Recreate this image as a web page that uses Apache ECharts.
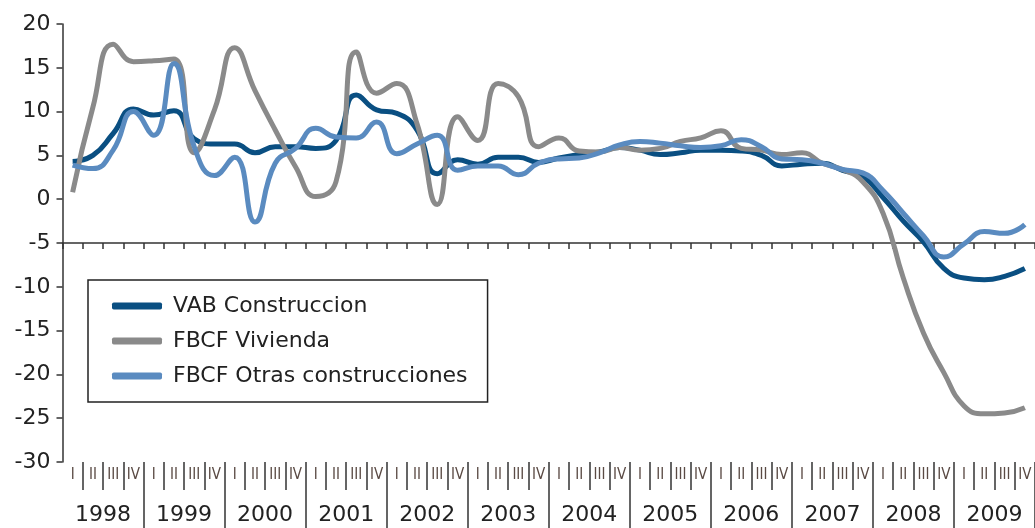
<!DOCTYPE html>
<html>
<head>
<meta charset="utf-8">
<title>VAB Construccion / FBCF</title>
<script src="https://cdn.jsdelivr.net/npm/echarts@6/dist/echarts.min.js"></script>
<style>
  html, body { margin: 0; padding: 0; background: #fff; }
  #chart { width: 1035px; height: 528px; }
</style>
</head>
<body>
<div id="chart"></div>
<script>
// tick labels
const years = ['1998', '1999', '2000', '2001', '2002', '2003', '2004', '2005', '2006', '2007', '2008', '2009']
const quarterNames = ['I', 'II', 'III', 'IV']

// quarterly growth rates (%), 1998 Q1 .. 2009 Q4
const vab = [4.3, 5.0, 7.5, 10.3, 9.6, 10.1, 6.9, 6.3, 6.3, 5.3, 6.0, 6.0,
  5.8, 6.7, 11.9, 10.2, 9.8, 7.9, 2.9, 4.5, 4.0, 4.8, 4.8, 4.2,
  4.7, 5.1, 5.4, 5.9, 5.6, 5.1, 5.3, 5.6, 5.6, 5.5, 5.0, 3.8,
  4.0, 4.1, 3.3, 2.6, 0.2, -2.5, -4.9, -7.9, -9.0, -9.2, -8.8, -7.9]
const vivienda = [0.8, 10.5, 17.7, 15.7, 15.8, 16.0, 5.3, 10.2, 17.3, 12.4, 7.9, 3.7,
  0.3, 2.0, 16.8, 12.1, 13.2, 8.6, -0.6, 9.4, 6.7, 13.2, 11.7, 6.0,
  7.0, 5.5, 5.4, 5.9, 5.6, 5.8, 6.6, 7.0, 7.8, 5.8, 5.6, 5.1,
  5.3, 4.1, 3.4, 2.0, -1.6, -9.0, -15.3, -19.8, -23.6, -24.5, -24.4, -23.8]
const otras = [3.9, 3.5, 5.6, 10.0, 7.3, 15.5, 6.0, 2.7, 4.8, -2.6, 4.1, 5.8,
  8.1, 7.1, 7.0, 8.8, 5.2, 6.3, 7.3, 3.3, 3.8, 3.8, 2.8, 4.1,
  4.6, 4.7, 5.3, 6.2, 6.6, 6.4, 6.1, 5.9, 6.1, 6.8, 6.0, 4.6,
  4.5, 4.1, 3.4, 3.0, 1.0, -1.6, -4.2, -6.6, -5.1, -3.7, -3.9, -2.9]

const seriesNames = ['VAB Construccion', 'FBCF Vivienda', 'FBCF Otras construcciones']
const colors = ['#0a4f82', '#8a8a8a', '#5a8bc0']

const quarters = []
years.forEach(function (y) {
  quarterNames.forEach(function (q) {
    quarters.push(q)
  })
})

const font = "'DejaVu Sans', sans-serif"
const axisColor = '#333'
const skipFirst = function (index) {
  return index > 0
}

const chart = echarts.init(document.getElementById('chart'))

chart.setOption({
  animation: false,
  color: colors,
  grid: {
    left: 62.5,
    right: -10,
    top: 24,
    bottom: 66
  },
  legend: {
    data: seriesNames,
    orient: 'vertical',
    left: 88,
    top: 280,
    icon: 'roundRect',
    itemWidth: 50,
    itemHeight: 7,
    itemGap: 11,
    padding: [14, 20, 14, 24],
    backgroundColor: '#fff',
    borderColor: '#222',
    borderWidth: 1.5,
    textStyle: {
      fontFamily: font,
      fontSize: 22,
      lineHeight: 24,
      padding: [0, 0, 0, 6],
      color: '#222'
    }
  },
  xAxis: [
    {
      // the line at -5 with its ticks (moved up from the bottom edge)
      type: 'category',
      data: quarters,
      position: 'bottom',
      offset: -219,
      boundaryGap: true,
      axisLine: { show: true, onZero: false, lineStyle: { color: axisColor, width: 1.5 } },
      axisTick: { show: true, length: 6, interval: 0, lineStyle: { color: axisColor, width: 1.5 } },
      axisLabel: { show: false }
    },
    {
      // quarter row
      type: 'category',
      data: quarters,
      position: 'bottom',
      boundaryGap: true,
      axisLine: { show: false, onZero: false },
      axisTick: { show: true, length: 28, interval: skipFirst, lineStyle: { color: axisColor, width: 1.5 } },
      axisLabel: {
        interval: 0,
        margin: 6,
        fontFamily: "'Liberation Sans Narrow', 'DejaVu Sans Condensed', sans-serif",
        fontSize: 15,
        color: '#5a4a44'
      }
    },
    {
      // year row
      type: 'category',
      data: years,
      position: 'bottom',
      boundaryGap: true,
      axisLine: { show: false, onZero: false },
      axisTick: { show: true, length: 70, interval: skipFirst, lineStyle: { color: axisColor, width: 1.5 } },
      axisLabel: {
        interval: 0,
        margin: 42,
        fontFamily: font,
        fontSize: 22,
        color: '#222'
      }
    }
  ],
  yAxis: {
    type: 'value',
    min: -30,
    max: 20,
    interval: 5,
    axisLine: { show: true, lineStyle: { color: axisColor, width: 1.5 } },
    axisTick: { show: true, length: 6, lineStyle: { color: axisColor, width: 1.5 } },
    splitLine: { show: false },
    axisLabel: {
      margin: 12,
      fontFamily: font,
      fontSize: 22,
      color: '#222'
    }
  },
  series: [
    {
      name: seriesNames[0],
      type: 'line',
      data: vab,
      smooth: 0.5,
      symbol: 'none',
      lineStyle: { width: 5 }
    },
    {
      name: seriesNames[1],
      type: 'line',
      data: vivienda,
      smooth: 0.5,
      symbol: 'none',
      lineStyle: { width: 5 }
    },
    {
      name: seriesNames[2],
      type: 'line',
      data: otras,
      smooth: 0.5,
      symbol: 'none',
      lineStyle: { width: 5 }
    }
  ]
})
</script>
</body>
</html>
